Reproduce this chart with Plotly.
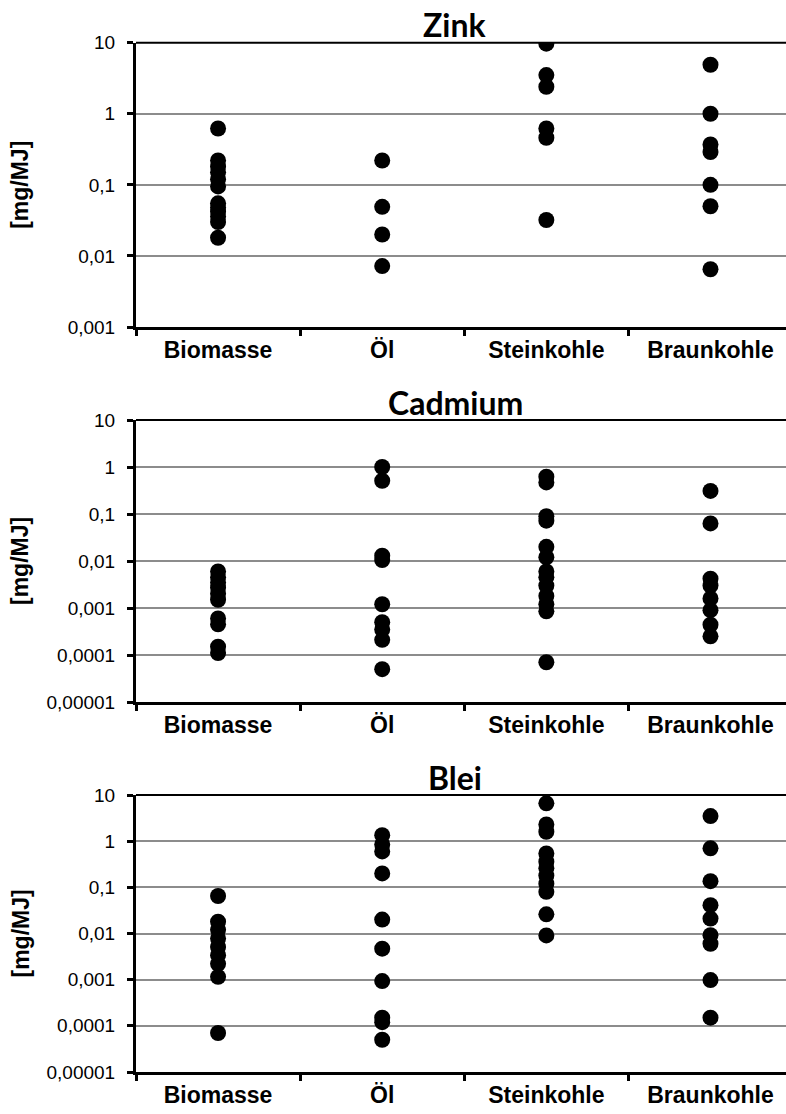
import plotly.graph_objects as go
from plotly.subplots import make_subplots

categories = ["Biomasse", "Öl", "Steinkohle", "Braunkohle"]

# Zink [mg/MJ]
zink_biomasse = [0.62, 0.22, 0.18, 0.15, 0.12, 0.095, 0.055, 0.048, 0.042, 0.036, 0.03, 0.018]
zink_oel = [0.22, 0.049, 0.02, 0.0072]
zink_steinkohle = [9.7, 3.5, 2.4, 0.62, 0.46, 0.032]
zink_braunkohle = [4.9, 1.0, 0.37, 0.29, 0.1, 0.05, 0.0065]

# Cadmium [mg/MJ]
cadmium_biomasse = [0.006, 0.0045, 0.0035, 0.0027, 0.002, 0.0015, 0.0006, 0.00045, 0.00015, 0.00011]
cadmium_oel = [1.0, 0.51, 0.013, 0.0105, 0.0012, 0.0005, 0.00035, 0.00021, 0.00005]
cadmium_steinkohle = [0.62, 0.47, 0.09, 0.072, 0.02, 0.012, 0.006, 0.0045, 0.003,
                      0.0018, 0.0012, 0.00085, 0.00007]
cadmium_braunkohle = [0.31, 0.063, 0.0042, 0.003, 0.0016, 0.0009, 0.00044, 0.00025]

# Blei [mg/MJ]
blei_biomasse = [0.065, 0.018, 0.012, 0.0078, 0.0051, 0.0034, 0.0022, 0.00115, 0.00007]
blei_oel = [1.35, 0.85, 0.6, 0.2, 0.02, 0.0047, 0.00093, 0.00015, 0.00012, 0.00005]
blei_steinkohle = [6.6, 2.3, 1.6, 0.54, 0.36, 0.26, 0.18, 0.12, 0.08, 0.026, 0.0091]
blei_braunkohle = [3.5, 0.7, 0.136, 0.041, 0.021, 0.0092, 0.006, 0.00098, 0.00015]

titles = ["Zink", "Cadmium", "Blei"]
y_title = "[mg/MJ]"

zink_tickvals = [0.001, 0.01, 0.1, 1, 10]
zink_ticktext = ["0,001", "0,01", "0,1", "1", "10"]
cb_tickvals = [0.00001, 0.0001, 0.001, 0.01, 0.1, 1, 10]
cb_ticktext = ["0,00001", "0,0001", "0,001", "0,01", "0,1", "1", "10"]

panels = [
    ([zink_biomasse, zink_oel, zink_steinkohle, zink_braunkohle], zink_tickvals, zink_ticktext, -3),
    ([cadmium_biomasse, cadmium_oel, cadmium_steinkohle, cadmium_braunkohle], cb_tickvals, cb_ticktext, -5),
    ([blei_biomasse, blei_oel, blei_steinkohle, blei_braunkohle], cb_tickvals, cb_ticktext, -5),
]

W, H = 786, 1114
# pixel layout of the three plot areas (top, bottom), left edge
plot_rows = [(42.7, 327), (420, 702), (795, 1072)]
title_y = [24, 402, 777]
left_px = 136

fig = make_subplots(rows=3, cols=1)

arial = "Liberation Sans, Arial, sans-serif"

for i, (series, tv, tt, ymin) in enumerate(panels):
    r = i + 1
    for cat, vals in zip(categories, series):
        fig.add_trace(go.Scatter(
            x=[cat] * len(vals), y=vals, mode="markers",
            marker=dict(color="black", size=16),
            showlegend=False, hoverinfo="y"), row=r, col=1)

    top, bot = plot_rows[i]
    xa = "xaxis" if r == 1 else "xaxis%d" % r
    ya = "yaxis" if r == 1 else "yaxis%d" % r
    fig.layout[xa].update(
        domain=[left_px / W, 1], type="category", categoryorder="array",
        categoryarray=categories, range=[-0.5, 3.46], automargin=False,
        showline=True, linecolor="black", linewidth=3,
        ticks="outside", tickson="boundaries", ticklen=6, tickwidth=3, tickcolor="black",
        showgrid=False, tickfont=dict(family=arial, size=23, color="black", weight="bold"))
    fig.layout[ya].update(
        domain=[1 - bot / H, 1 - top / H], type="log",
        range=[ymin, 1], automargin=False,
        tickvals=tv, ticktext=tt,
        showline=True, linecolor="black", linewidth=3,
        ticks="outside", ticklen=6, tickwidth=3, tickcolor="black",
        showgrid=True, gridcolor="#8c8c8c", gridwidth=2,
        zeroline=False, ticklabelstandoff=8,
        tickfont=dict(family=arial, size=19, color="black"))

    # black top border at 10
    fig.add_shape(type="line", xref="x domain" if r == 1 else "x%d domain" % r,
                  yref="paper", x0=0, x1=1, y0=1 - top / H, y1=1 - top / H,
                  line=dict(color="black", width=2))

    fig.add_annotation(text=titles[i], xref="paper", yref="paper",
                       x=455 / W, y=1 - title_y[i] / H, xanchor="center", yanchor="middle",
                       showarrow=False,
                       font=dict(family="Lato, Open Sans, sans-serif", size=32, color="black",
                                 weight="bold"))
    fig.add_annotation(text=y_title, xref="paper", yref="paper",
                       x=20 / W, y=1 - (top + bot) / 2 / H, xanchor="center", yanchor="middle",
                       textangle=-90, showarrow=False,
                       font=dict(family=arial, size=23, color="black", weight="bold"))

fig.update_layout(width=W, height=H, margin=dict(l=0, r=0, t=0, b=0, autoexpand=False),
                  plot_bgcolor="white", paper_bgcolor="white")

fig.write_html("out.html", config={"displayModeBar": False},
               post_script="document.body.style.margin='0';document.body.style.overflow='hidden';")
